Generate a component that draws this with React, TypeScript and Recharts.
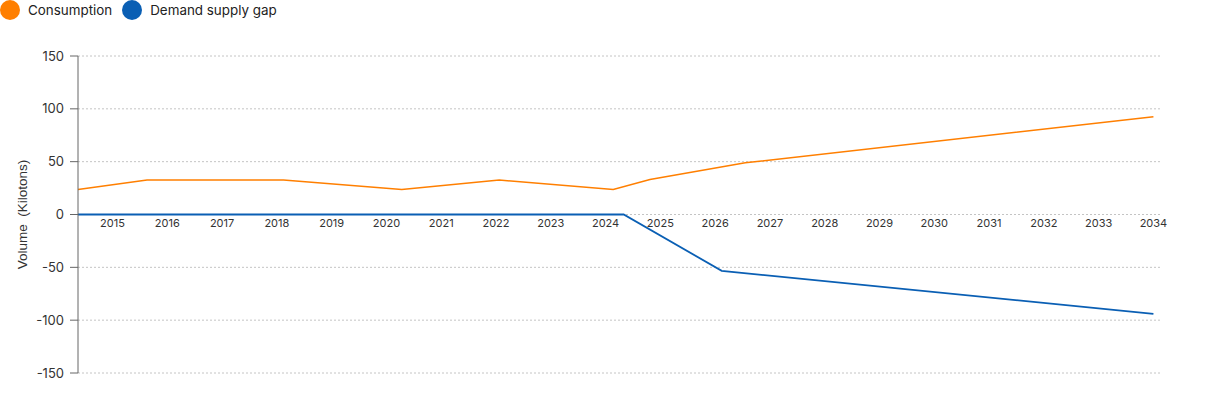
import { CartesianGrid, Legend, Line, LineChart, XAxis, YAxis } from 'recharts';

// consumption (kilotons), x
const consumptionYears = [2014.37, 2015.63, 2018.12, 2020.28, 2022.06, 2024.14, 2024.81, 2026.55, 2034];
const consumptionValues = [23.7, 32.6, 32.6, 23.7, 32.6, 23.7, 33.1, 48.9, 92.5];

// demand supply gap (kilotons)
const gapYears = [2014.37, 2024.33, 2026.12, 2034];
const gapValues = [0, 0, -53.3, -94];

const yearTicks = [
  2015, 2016, 2017, 2018, 2019, 2020, 2021, 2022, 2023, 2024,
  2025, 2026, 2027, 2028, 2029, 2030, 2031, 2032, 2033, 2034,
];
const volumeTicks = [-150, -100, -50, 0, 50, 100, 150];

const seriesNames = ['Consumption', 'Demand supply gap'];
const seriesColors = ['#ff7f00', '#0a5fb4'];

const consumptionData = consumptionYears.map((year, i) => ({ year, value: consumptionValues[i] }));
const gapData = gapYears.map((year, i) => ({ year, value: gapValues[i] }));

const WIDTH = 1210;
const HEIGHT = 397;
const LEGEND_H = 20;
const X_AXIS_H = 20;
const margin = { top: 36, right: 50, bottom: 4, left: 0 };
const plotHeight = HEIGHT - margin.top - LEGEND_H - margin.bottom - X_AXIS_H;

// year labels sit just under the zero line, not at the bottom of the plot
const YearTick = ({ x, y, payload }: any) => (
  <text
    x={x}
    y={y - plotHeight / 2 + 12}
    textAnchor='middle'
    fill='#333'
    fontSize={11}
  >
    {payload.value}
  </text>
);

const LegendContent = () => (
  <div style={{ display: 'flex', alignItems: 'center', height: LEGEND_H }}>
    {seriesNames.map((name, i) => (
      <div key={name} style={{ display: 'flex', alignItems: 'center', marginRight: 10 }}>
        <span
          style={{
            width: 20,
            height: 20,
            borderRadius: 10,
            background: seriesColors[i],
            marginRight: 8,
          }}
        />
        <span style={{ fontSize: 13.4, color: '#222' }}>{name}</span>
      </div>
    ))}
  </div>
);

const App = () => {
  return (
    <div style={{ position: 'absolute', top: 0, left: 0, fontFamily: 'Inter, sans-serif' }}>
      <LineChart width={WIDTH} height={HEIGHT} margin={margin}>
        <Legend
          verticalAlign='top'
          align='left'
          height={LEGEND_H}
          wrapperStyle={{ top: 0, left: 0 }}
          content={<LegendContent />}
        />
        <CartesianGrid vertical={false} stroke='#c4c4c4' strokeDasharray='2 2' />
        <XAxis
          dataKey='year'
          type='number'
          domain={[2014.37, 2034.12]}
          ticks={yearTicks}
          allowDuplicatedCategory={false}
          axisLine={false}
          tickLine={false}
          tickSize={0}
          tickMargin={0}
          height={X_AXIS_H}
          interval={0}
          tick={<YearTick />}
        />
        <YAxis
          width={78}
          domain={[-150, 150]}
          ticks={volumeTicks}
          allowDataOverflow
          stroke='#666'
          tickSize={8}
          tickMargin={6}
          tick={{ fill: '#333', fontSize: 13 }}
          label={{
            value: 'Volume\u00a0\u00a0(Kilotons)',
            angle: -90,
            position: 'insideLeft',
            offset: 22,
            style: { textAnchor: 'middle', fill: '#333', fontSize: 13.5, fontFamily: 'Liberation Sans, Arial, sans-serif' },
          }}
        />
        <Line
          data={consumptionData}
          dataKey='value'
          name={seriesNames[0]}
          stroke={seriesColors[0]}
          strokeWidth={1.5}
          dot={false}
          isAnimationActive={false}
        />
        <Line
          data={gapData}
          dataKey='value'
          name={seriesNames[1]}
          stroke={seriesColors[1]}
          strokeWidth={1.8}
          dot={false}
          isAnimationActive={false}
        />
      </LineChart>
    </div>
  );
};

export default App;
